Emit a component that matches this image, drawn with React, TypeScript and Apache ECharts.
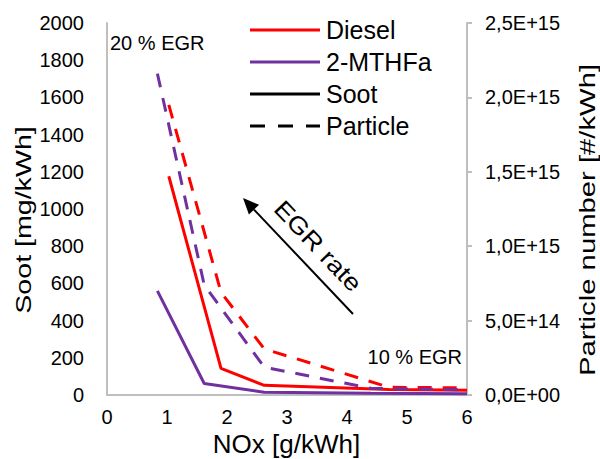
import React, { useEffect, useRef } from "react";
import * as echarts from "echarts";

// NOx [g/kWh] operating points
const noxDiesel = [1.03, 1.9, 2.62, 4.7, 6.0];
const noxMTHF = [0.84, 1.62, 2.62, 4.4, 6.0];
// Soot [mg/kWh]
const sootDiesel = [1176, 143, 52, 30, 25];
const sootMTHF = [560, 62, 15, 9, 7];
// Particle number [#/kWh]
const particleDiesel = [1.95e15, 6.9e14, 3.1e14, 5.2e13, 4.8e13];
const particleMTHF = [2.16e15, 7.4e14, 1.87e14, 4.5e13, 3.4e13];
// Right axis tick labels
const particleTicks = ["0,0E+00", "5,0E+14", "1,0E+15", "1,5E+15", "2,0E+15", "2,5E+15"];
// Legend entries
const legendNames = ["Diesel", "2-MTHFa", "Soot", "Particle"];
const legendColors = ["#ff0000", "#7030a0", "#000000", "#000000"];
const legendDashed = [false, false, false, true];

const RED = "#ff0000";
const PURPLE = "#7030a0";
const AXIS = "#bfbfbf";
const FONT = "'Liberation Sans', Arial, sans-serif";

const pairs = (xs: number[], ys: number[]) => xs.map((x, i) => [x, ys[i]]);

export default function App() {
  const ref = useRef<HTMLDivElement>(null);
  useEffect(() => {
    if (!ref.current) return;
    const chart = echarts.init(ref.current, undefined, { renderer: "svg" });
    const dash = [14, 11];

    const legendGraphics: any[] = [];
    legendNames.forEach((name, i) => {
      const y = 30 + i * 32;
      legendGraphics.push({
        type: "line",
        shape: { x1: 250, y1: y, x2: 320, y2: y },
        style: {
          stroke: legendColors[i],
          lineWidth: 3,
          lineDash: legendDashed[i] ? [15, 13] : null,
        },
      });
      legendGraphics.push({
        type: "text",
        x: 326,
        y: y,
        style: {
          text: name,
          fontSize: 25,
          fontFamily: FONT,
          fill: "#000",
          textAlign: "left",
          textVerticalAlign: "middle",
        },
      });
    });

    const option: any = {
      animation: false,
      backgroundColor: "#ffffff",
      textStyle: { fontFamily: FONT, color: "#000" },
      grid: {
        left: 107,
        right: 133,
        top: 23,
        bottom: 64,
        containLabel: false,
        outerBoundsMode: "none",
      },
      xAxis: {
        type: "value",
        min: 0,
        max: 6,
        interval: 1,
        axisLine: { show: true, lineStyle: { color: AXIS, width: 2 } },
        axisTick: { show: false },
        splitLine: { show: false },
        axisLabel: { fontSize: 20, color: "#000", margin: 12, fontFamily: FONT },
      },
      yAxis: [
        {
          type: "value",
          position: "left",
          min: 0,
          max: 2000,
          interval: 200,
          axisLine: { show: true, lineStyle: { color: AXIS, width: 2 } },
          axisTick: { show: false },
          splitLine: { show: false },
          axisLabel: {
            fontSize: 20,
            color: "#000",
            margin: 23,
            fontFamily: FONT,
            formatter: (v: number) => String(v),
          },
        },
        {
          type: "value",
          position: "right",
          min: 0,
          max: 2.5e15,
          interval: 5e14,
          axisLine: { show: true, lineStyle: { color: AXIS, width: 2 } },
          axisTick: { show: true, inside: false, length: 5, lineStyle: { color: AXIS, width: 2 } },
          splitLine: { show: false },
          axisLabel: {
            fontSize: 20,
            color: "#000",
            margin: 18,
            fontFamily: FONT,
            formatter: (_v: number, i: number) => particleTicks[i] ?? "",
          },
        },
      ],
      series: [
        {
          name: "Diesel soot",
          type: "line",
          yAxisIndex: 0,
          data: pairs(noxDiesel, sootDiesel),
          symbol: "none",
          lineStyle: { color: RED, width: 3 },
          itemStyle: { color: RED },
        },
        {
          name: "2-MTHFa soot",
          type: "line",
          yAxisIndex: 0,
          data: pairs(noxMTHF, sootMTHF),
          symbol: "none",
          lineStyle: { color: PURPLE, width: 3 },
          itemStyle: { color: PURPLE },
        },
        {
          name: "Diesel particle",
          type: "line",
          yAxisIndex: 1,
          data: pairs(noxDiesel, particleDiesel),
          symbol: "none",
          lineStyle: { color: RED, width: 3, type: dash },
          itemStyle: { color: RED },
        },
        {
          name: "2-MTHFa particle",
          type: "line",
          yAxisIndex: 1,
          data: pairs(noxMTHF, particleMTHF),
          symbol: "none",
          lineStyle: { color: PURPLE, width: 3, type: dash },
          itemStyle: { color: PURPLE },
        },
      ],
      graphic: [
        ...legendGraphics,
        {
          type: "text",
          x: 286.5,
          y: 444,
          style: {
            text: "NOx [g/kWh]",
            fontSize: 26,
            fontFamily: FONT,
            fill: "#000",
            textAlign: "center",
            textVerticalAlign: "middle",
          },
        },
        {
          type: "text",
          x: 23.5,
          y: 220,
          rotation: Math.PI / 2,
          scaleX: 1.3,
          style: {
            text: "Soot [mg/kWh]",
            fontSize: 22,
            fontFamily: FONT,
            fill: "#000",
            textAlign: "center",
            textVerticalAlign: "middle",
          },
        },
        {
          type: "text",
          x: 587.5,
          y: 220,
          rotation: Math.PI / 2,
          scaleX: 1.33,
          style: {
            text: "Particle number [#/kWh]",
            fontSize: 22,
            fontFamily: FONT,
            fill: "#000",
            textAlign: "center",
            textVerticalAlign: "middle",
          },
        },
        {
          type: "text",
          x: 110,
          y: 43,
          style: {
            text: "20 % EGR",
            fontSize: 20,
            fontFamily: FONT,
            fill: "#000",
            textAlign: "left",
            textVerticalAlign: "middle",
          },
        },
        {
          type: "text",
          x: 462,
          y: 357,
          style: {
            text: "10 % EGR",
            fontSize: 20,
            fontFamily: FONT,
            fill: "#000",
            textAlign: "right",
            textVerticalAlign: "middle",
          },
        },
        {
          type: "text",
          x: 318,
          y: 246,
          rotation: -0.812,
          scaleX: 1.15,
          style: {
            text: "EGR rate",
            fontSize: 24,
            fontFamily: FONT,
            fill: "#000",
            textAlign: "center",
            textVerticalAlign: "middle",
          },
        },
        {
          type: "line",
          shape: { x1: 353, y1: 314, x2: 254, y2: 209.6 },
          style: { stroke: "#000", lineWidth: 2 },
        },
        {
          type: "polygon",
          shape: { points: [[243, 198], [259.1, 204.8], [248.9, 214.4]] },
          style: { fill: "#000" },
        },
      ],
    };
    chart.setOption(option);
    return () => chart.dispose();
  }, []);
  return (
    <div
      ref={ref}
      style={{ position: "fixed", left: 0, top: 0, width: 600, height: 459, background: "#fff" }}
    />
  );
}
